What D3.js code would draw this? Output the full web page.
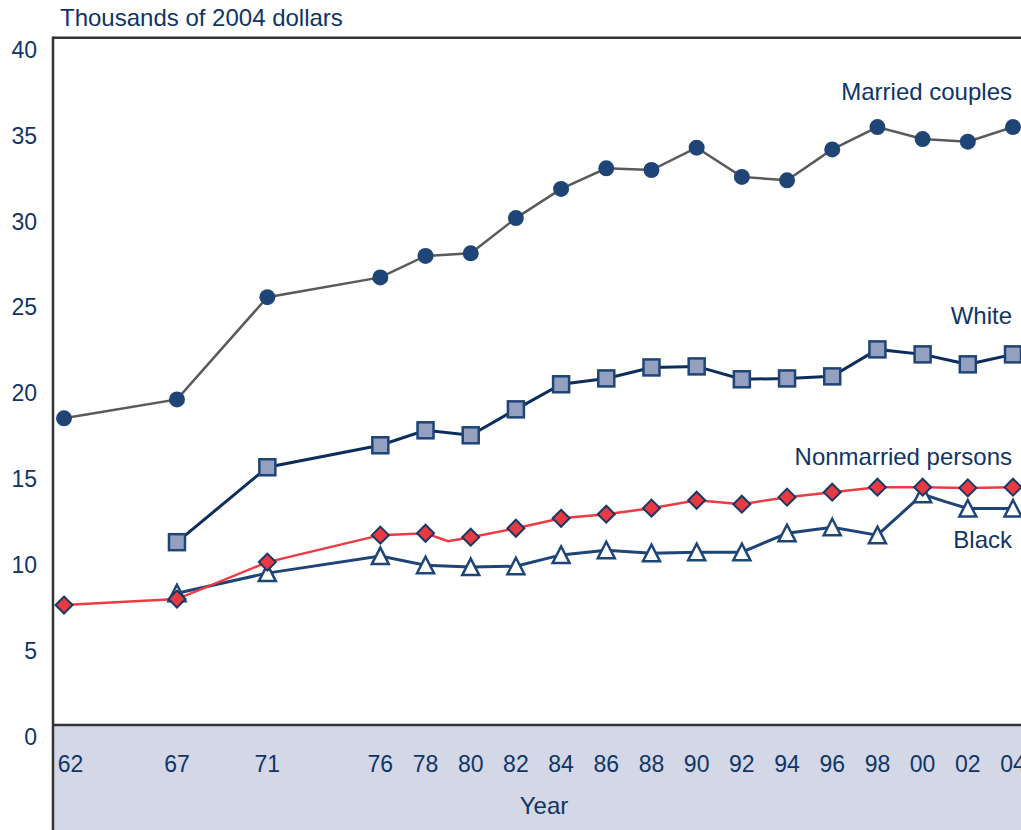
<!DOCTYPE html>
<html>
<head>
<meta charset="utf-8">
<script src="https://cdn.jsdelivr.net/npm/d3@7"></script>
<style>
  html, body { margin: 0; padding: 0; background: #fff; }
  svg { display: block; }
  text { font-family: "Liberation Sans", Arial, Helvetica, sans-serif; fill: #0f3567; }
</style>
</head>
<body>
<svg id="chart" width="1021" height="830"></svg>
<script>
// ---------- DATA ----------
const tickYears = [1962,1967,1971,1976,1978,1980,1982,1984,1986,1988,1990,1992,1994,1996,1998,2000,2002,2004];
const tickLabels = ["62","67","71","76","78","80","82","84","86","88","90","92","94","96","98","00","02","04"];
const yTicks = [0,5,10,15,20,25,30,35,40];

const marriedYears = [1962,1967,1971,1976,1978,1980,1982,1984,1986,1988,1990,1992,1994,1996,1998,2000,2002,2004];
const marriedValues = [17.85,18.95,24.9,26.05,27.3,27.45,29.5,31.2,32.4,32.3,33.6,31.9,31.7,33.5,34.8,34.1,33.95,34.8];

const whiteYears = [1967,1971,1976,1978,1980,1982,1984,1986,1988,1990,1992,1994,1996,1998,2000,2002,2004];
const whiteValues = [10.64,15.0,16.28,17.15,16.86,18.37,19.83,20.17,20.81,20.87,20.12,20.17,20.29,21.86,21.57,20.99,21.57];

const nonmarriedYears = [1962,1967,1971,1976,1978,1979,1980,1982,1984,1986,1988,1990,1992,1994,1996,1998,2000,2002,2004];
const nonmarriedValues = [6.98,7.33,9.48,11.05,11.16,10.7,10.93,11.45,12.03,12.27,12.62,13.08,12.85,13.26,13.55,13.84,13.84,13.8,13.84];
const nonmarriedUnmarked = [1979];

const blackYears = [1967,1971,1976,1978,1980,1982,1984,1986,1988,1990,1992,1994,1996,1998,2000,2001,2002,2004];
const blackValues = [7.67,8.84,9.83,9.3,9.19,9.24,9.9,10.17,10.0,10.06,10.06,11.16,11.51,11.05,13.43,13.0,12.6,12.6];
const blackUnmarked = [2001];

const seriesLabels = ["Married couples","White","Nonmarried persons","Black"];

// ---------- LAYOUT ----------
const svg = d3.select("#chart");
const W = 1021, H = 830;
const plotLeft = 53, plotTop = 37.7, zeroY = 725;
const navy = "#1f4577";
const numSize = 23, textSize = 24;

const x = d3.scaleLinear().domain([1962, 2004]).range([64, 1013]);
const y = d3.scaleLinear().domain([0, 40]).range([zeroY, plotTop]);

// band under the axis
svg.append("rect").attr("x", plotLeft).attr("y", zeroY).attr("width", W - plotLeft).attr("height", H - zeroY)
  .attr("fill", "#d4d8e6");

// frame lines
svg.append("line").attr("x1", plotLeft).attr("x2", W).attr("y1", plotTop).attr("y2", plotTop)
  .attr("stroke", "#333").attr("stroke-width", 2.5);
svg.append("line").attr("x1", plotLeft).attr("x2", plotLeft).attr("y1", plotTop - 1.2).attr("y2", H)
  .attr("stroke", "#333").attr("stroke-width", 2.5);
svg.append("line").attr("x1", plotLeft).attr("x2", W).attr("y1", zeroY).attr("y2", zeroY)
  .attr("stroke", "#333").attr("stroke-width", 2.5);

// title
svg.append("text").attr("x", 60).attr("y", 26).attr("font-size", textSize).text("Thousands of 2004 dollars");

// y tick labels
svg.selectAll(".ylab").data(yTicks).join("text")
  .attr("class", "ylab")
  .attr("x", 37).attr("y", d => y(d) + 12)
  .attr("text-anchor", "end").attr("dominant-baseline", "central")
  .attr("font-size", numSize).text(d => d);

// x tick labels
svg.selectAll(".xlab").data(tickYears).join("text")
  .attr("class", "xlab")
  .attr("x", d => Math.max(x(d), 70.5)).attr("y", 764)
  .attr("text-anchor", "middle").attr("dominant-baseline", "central")
  .attr("font-size", numSize).text((d, i) => tickLabels[i]);

svg.append("text").attr("x", 544).attr("y", 805).attr("text-anchor", "middle")
  .attr("dominant-baseline", "central").attr("font-size", textSize).text("Year");

// ---------- SERIES ----------
const g = svg.append("g");
const line = d3.line().x(d => x(d[0])).y(d => y(d[1]));
const zip = (ys, vs) => ys.map((yr, i) => [yr, vs[i]]);

const married = zip(marriedYears, marriedValues);
const white = zip(whiteYears, whiteValues);
const nonmarried = zip(nonmarriedYears, nonmarriedValues);
const black = zip(blackYears, blackValues);

g.append("path").datum(married).attr("d", line).attr("fill", "none").attr("stroke", "#5a5a5a").attr("stroke-width", 2.5);
g.append("path").datum(white).attr("d", line).attr("fill", "none").attr("stroke", "#0d2e5c").attr("stroke-width", 3);
g.append("path").datum(black).attr("d", line).attr("fill", "none").attr("stroke", navy).attr("stroke-width", 3);
g.append("path").datum(nonmarried).attr("d", line).attr("fill", "none").attr("stroke", "#ee3a43").attr("stroke-width", 2.5);

// markers
g.selectAll(".circ").data(married).join("circle")
  .attr("cx", d => x(d[0])).attr("cy", d => y(d[1])).attr("r", 8).attr("fill", navy);

g.selectAll(".sq").data(white).join("rect")
  .attr("x", d => x(d[0]) - 8).attr("y", d => y(d[1]) - 8).attr("width", 16).attr("height", 16)
  .attr("fill", "#93a0c0").attr("stroke", navy).attr("stroke-width", 2.5);

g.selectAll(".tri").data(black.filter(d => !blackUnmarked.includes(d[0]))).join("path")
  .attr("d", d => { const cx = x(d[0]), cy = y(d[1]);
    return `M${cx},${cy - 8.5}L${cx + 8.5},${cy + 8}L${cx - 8.5},${cy + 8}Z`; })
  .attr("fill", "#fff").attr("stroke", navy).attr("stroke-width", 2.5).attr("stroke-linejoin", "miter");

g.selectAll(".dia").data(nonmarried.filter(d => !nonmarriedUnmarked.includes(d[0]))).join("path")
  .attr("d", d => { const cx = x(d[0]), cy = y(d[1]);
    return `M${cx},${cy - 8.5}L${cx + 8.5},${cy}L${cx},${cy + 8.5}L${cx - 8.5},${cy}Z`; })
  .attr("fill", "#e83a40").attr("stroke", "#183865").attr("stroke-width", 2);

// series labels
const labelPos = [[1012, 91], [1012, 315], [1012, 456], [1012, 539]];
svg.selectAll(".slab").data(seriesLabels).join("text")
  .attr("x", (d, i) => labelPos[i][0]).attr("y", (d, i) => labelPos[i][1])
  .attr("text-anchor", "end").attr("dominant-baseline", "central")
  .attr("font-size", textSize).text(d => d);
</script>
</body>
</html>
